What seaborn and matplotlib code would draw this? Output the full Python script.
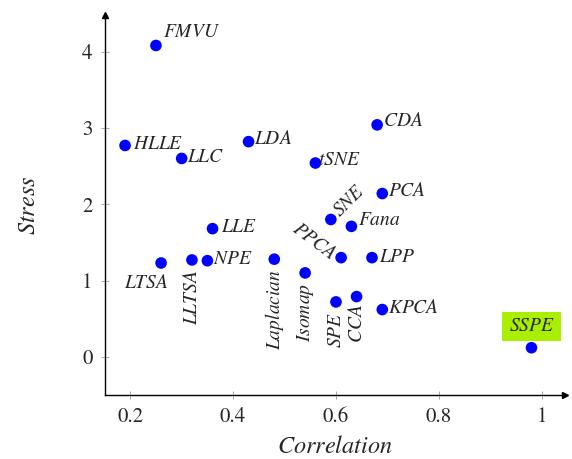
import matplotlib
matplotlib.use("Agg")
import matplotlib.pyplot as plt
import seaborn as sns
import pandas as pd

methods = ["FMVU", "HLLE", "LLC", "LDA", "tSNE", "CDA", "PCA", "SNE", "Fana", "PPCA",
           "LPP", "LLE", "LTSA", "LLTSA", "NPE", "Laplacian", "Isomap", "SPE", "CCA",
           "KPCA", "SSPE"]
correlation = [0.25, 0.19, 0.30, 0.43, 0.56, 0.68, 0.69, 0.59, 0.63, 0.61,
               0.67, 0.36, 0.26, 0.32, 0.35, 0.48, 0.54, 0.60, 0.64, 0.69, 0.98]
stress = [4.08, 2.77, 2.60, 2.82, 2.54, 3.04, 2.14, 1.80, 1.71, 1.30,
          1.30, 1.68, 1.23, 1.27, 1.26, 1.28, 1.10, 0.72, 0.79, 0.62, 0.12]

df = pd.DataFrame({"Correlation": correlation, "Stress": stress, "Method": methods})

sns.set_style("white")
plt.rcParams["font.family"] = ["STIXGeneral", "DejaVu Serif"]
plt.rcParams["mathtext.fontset"] = "stix"

fig = plt.figure(figsize=(5.72, 4.59), dpi=100)
ax = fig.add_axes([0.1836, 0.1394, 0.804, 0.828])

sns.scatterplot(data=df, x="Correlation", y="Stress", ax=ax, color="#0000ff",
                s=70, edgecolor="none", zorder=3)

# label placement: (dx, dy in points, ha, va, rotation)
place = {
    "FMVU": (5, 3, "left", "bottom", 0),
    "HLLE": (6, 1, "left", "center", 0),
    "LLC": (4, 1, "left", "center", 0),
    "LDA": (4, 2, "left", "center", 0),
    "tSNE": (2, 2, "left", "center", 0),
    "CDA": (4, 3, "left", "center", 0),
    "PCA": (4, 2, "left", "center", 0),
    "SNE": (4, 4, "left", "center", 45),
    "Fana": (5, 4, "left", "center", 0),
    "PPCA": (-5, 1, "right", "center", -37),
    "LPP": (5, 0, "left", "center", 0),
    "LLE": (6, 1, "left", "center", 0),
    "LTSA": (-11, -8, "center", "top", 0),
    "LLTSA": (0, -7, "center", "top", 90),
    "NPE": (4, 1, "left", "center", 0),
    "Laplacian": (0, -7, "center", "top", 90),
    "Isomap": (0, -7, "center", "top", 90),
    "SPE": (0, -7, "center", "top", 90),
    "CCA": (0, -5, "center", "top", 90),
    "KPCA": (4, 1, "left", "center", 0),
    "SSPE": (0, 9, "center", "bottom", 0),
}

for m, xv, yv in zip(methods, correlation, stress):
    dx, dy, ha, va, rot = place[m]
    kw = {}
    if m == "SSPE":
        kw["bbox"] = dict(boxstyle="square,pad=0.32", facecolor="#aaee00", edgecolor="none")
    ax.annotate(f"${m}$", (xv, yv), xytext=(dx, dy), textcoords="offset points",
                ha=ha, va=va, rotation=rot, fontsize=14,
                rotation_mode="anchor" if rot not in (0, 90) else "default", **kw)

ax.set_xlim(0.151, 1.045)
ax.set_ylim(-0.5, 4.48)
ax.set_xticks([0.2, 0.4, 0.6, 0.8, 1.0])
ax.set_xticklabels(["0.2", "0.4", "0.6", "0.8", "1"])
ax.set_yticks([0, 1, 2, 3, 4])
ax.set_yticklabels(["0", "1", "2", "3", "4"])
ax.tick_params(axis="both", direction="inout", length=6, width=0.6, color="#999999",
               labelsize=15, pad=6, left=True, bottom=True)

ax.set_xlabel(r"$Correlation$", fontsize=17.5, labelpad=6)
ax.set_ylabel(r"$Stress$", fontsize=17.5, labelpad=30)

for side in ["top", "right"]:
    ax.spines[side].set_visible(False)
for side in ["left", "bottom"]:
    ax.spines[side].set_color("black")
    ax.spines[side].set_linewidth(1.0)

ax.plot(1, 0, ">k", markersize=5, transform=ax.transAxes, clip_on=False)
ax.plot(0, 1, "^k", markersize=5, transform=ax.transAxes, clip_on=False)

fig.savefig("out.png", dpi=100)
